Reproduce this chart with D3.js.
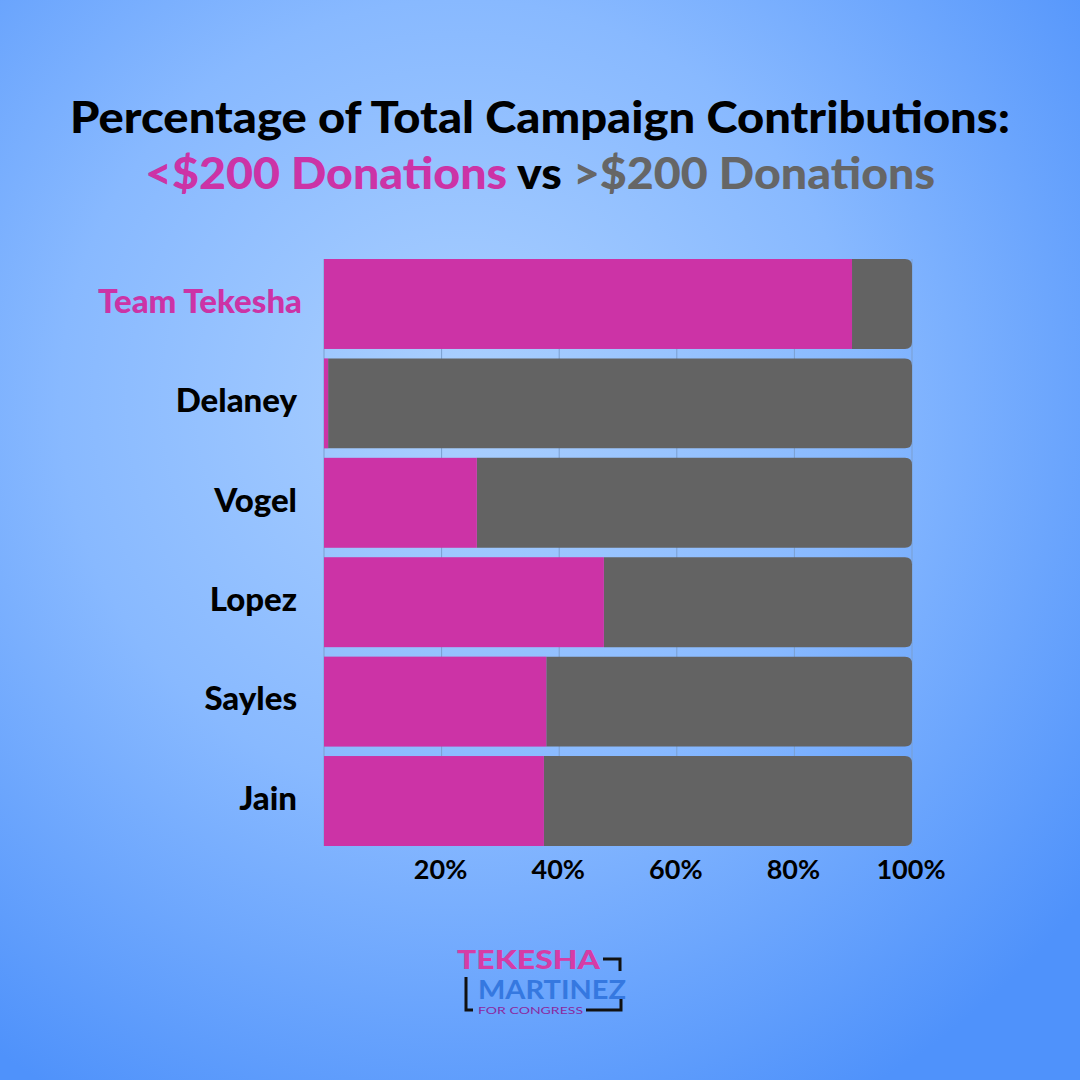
<!DOCTYPE html>
<html><head><meta charset="utf-8">
<script src="https://cdn.jsdelivr.net/npm/d3@7"></script>
<style>html,body{margin:0;padding:0;background:#6aa5ff;}svg{display:block;}</style>
</head><body><div id="chart"></div>
<script>
const categories = ["Team Tekesha","Delaney","Vogel","Lopez","Sayles","Jain"];
const small = [89.8, 0.7, 26.0, 47.6, 37.8, 37.4];   // <$200 share (%)
const large = small.map(v => 100 - v);               // >$200 share (%)
const tickValues = [20, 40, 60, 80, 100];
const tickLabels = ["20%","40%","60%","80%","100%"];

const W = 1080, H = 1080;
const svg = d3.select("#chart").append("svg").attr("width", W).attr("height", H);
const defs = svg.append("defs");
const grad = defs.append("radialGradient").attr("id","bg")
  .attr("gradientUnits","userSpaceOnUse").attr("cx",460).attr("cy",400).attr("r",800);
grad.append("stop").attr("offset","0").attr("stop-color","#abd0ff");
grad.append("stop").attr("offset","0.5").attr("stop-color","#88b9ff");
grad.append("stop").attr("offset","1").attr("stop-color","#4f92fb");
svg.append("rect").attr("width",W).attr("height",H).attr("fill","url(#bg)");

const font = "Lato, 'Open Sans', sans-serif";
const pink = "#cc33a6", grey = "#636363";

// Title
svg.append("text").attr("x",540).attr("y",133).attr("text-anchor","middle")
  .attr("font-family",font).attr("font-weight",900).attr("font-size",43).attr("fill","#000")
  .attr("textLength",940).attr("lengthAdjust","spacingAndGlyphs")
  .text("Percentage of Total Campaign Contributions:");
const t2 = svg.append("text").attr("x",540).attr("y",189).attr("text-anchor","middle")
  .attr("font-family",font).attr("font-weight",900).attr("font-size",43)
  .attr("textLength",790).attr("lengthAdjust","spacingAndGlyphs");
t2.append("tspan").attr("fill",pink).text("<$200 Donations");
t2.append("tspan").attr("fill","#000").text(" vs ");
t2.append("tspan").attr("fill","#666666").text(">$200 Donations");

// Scales
const x = d3.scaleLinear().domain([0,100]).range([324,912]);
const y = d3.scaleBand().domain(categories).range([259, 846]).paddingInner(0.095).paddingOuter(0);

// grid lines
svg.append("g").selectAll("line").data([0].concat(tickValues)).join("line")
  .attr("x1",d=>x(d)).attr("x2",d=>x(d)).attr("y1",259).attr("y2",846)
  .attr("stroke","#7a9fd0").attr("stroke-width",1);

const bh = y.bandwidth();
const r = 7;
const g = svg.append("g");
categories.forEach((c,i) => {
  const y0 = y(c);
  const x0 = x(small[i]), x1 = x(small[i] + large[i]);
  const path = `M${x0},${y0} H${x1-r} Q${x1},${y0} ${x1},${y0+r} V${y0+bh-r} Q${x1},${y0+bh} ${x1-r},${y0+bh} H${x0} Z`;
  g.append("path").attr("d",path).attr("fill",grey);
  g.append("rect").attr("x",x(0)).attr("y",y0).attr("width",x(small[i])-x(0)).attr("height",bh).attr("fill",pink);
});

// category labels
svg.append("g").selectAll("text").data(categories).join("text")
  .attr("x",(d,i)=> i===0 ? 302 : 297).attr("y",d=>y(d)+bh/2 - 3).attr("dy","0.36em")
  .attr("text-anchor","end").attr("font-family",font).attr("font-weight",900).attr("font-size",33)
  .attr("fill",(d,i)=> i===0 ? pink : "#000").text(d=>d);

// x axis labels
svg.append("g").selectAll("text").data(tickValues).join("text")
  .attr("x",d=>x(d)-1).attr("y",879).attr("text-anchor","middle")
  .attr("font-family",font).attr("font-weight",700).attr("font-size",27).attr("fill","#000")
  .text((d,i)=>tickLabels[i]);

// logo
const logo = svg.append("g");
logo.append("text").attr("x",457).attr("y",969).attr("font-family",font).attr("font-weight",900)
  .attr("font-size",27).attr("fill","#d63ca6").attr("textLength",143).attr("lengthAdjust","spacingAndGlyphs").text("TEKESHA");
logo.append("text").attr("x",478).attr("y",999).attr("font-family",font).attr("font-weight",700)
  .attr("font-size",27).attr("fill","#3578e0").attr("textLength",148).attr("lengthAdjust","spacingAndGlyphs").text("MARTINEZ");
logo.append("text").attr("x",478).attr("y",1014).attr("font-family",font).attr("font-weight",400)
  .attr("font-size",10).attr("fill","#8a2aa0").attr("textLength",105).attr("lengthAdjust","spacingAndGlyphs").text("FOR CONGRESS");
logo.append("path").attr("d","M603,959 H620 V971").attr("fill","none").attr("stroke","#111").attr("stroke-width",3);
logo.append("path").attr("d","M466,977 V1010 H473").attr("fill","none").attr("stroke","#111").attr("stroke-width",3);
logo.append("path").attr("d","M586,1010 H621 V999").attr("fill","none").attr("stroke","#111").attr("stroke-width",3);
</script></body></html>
